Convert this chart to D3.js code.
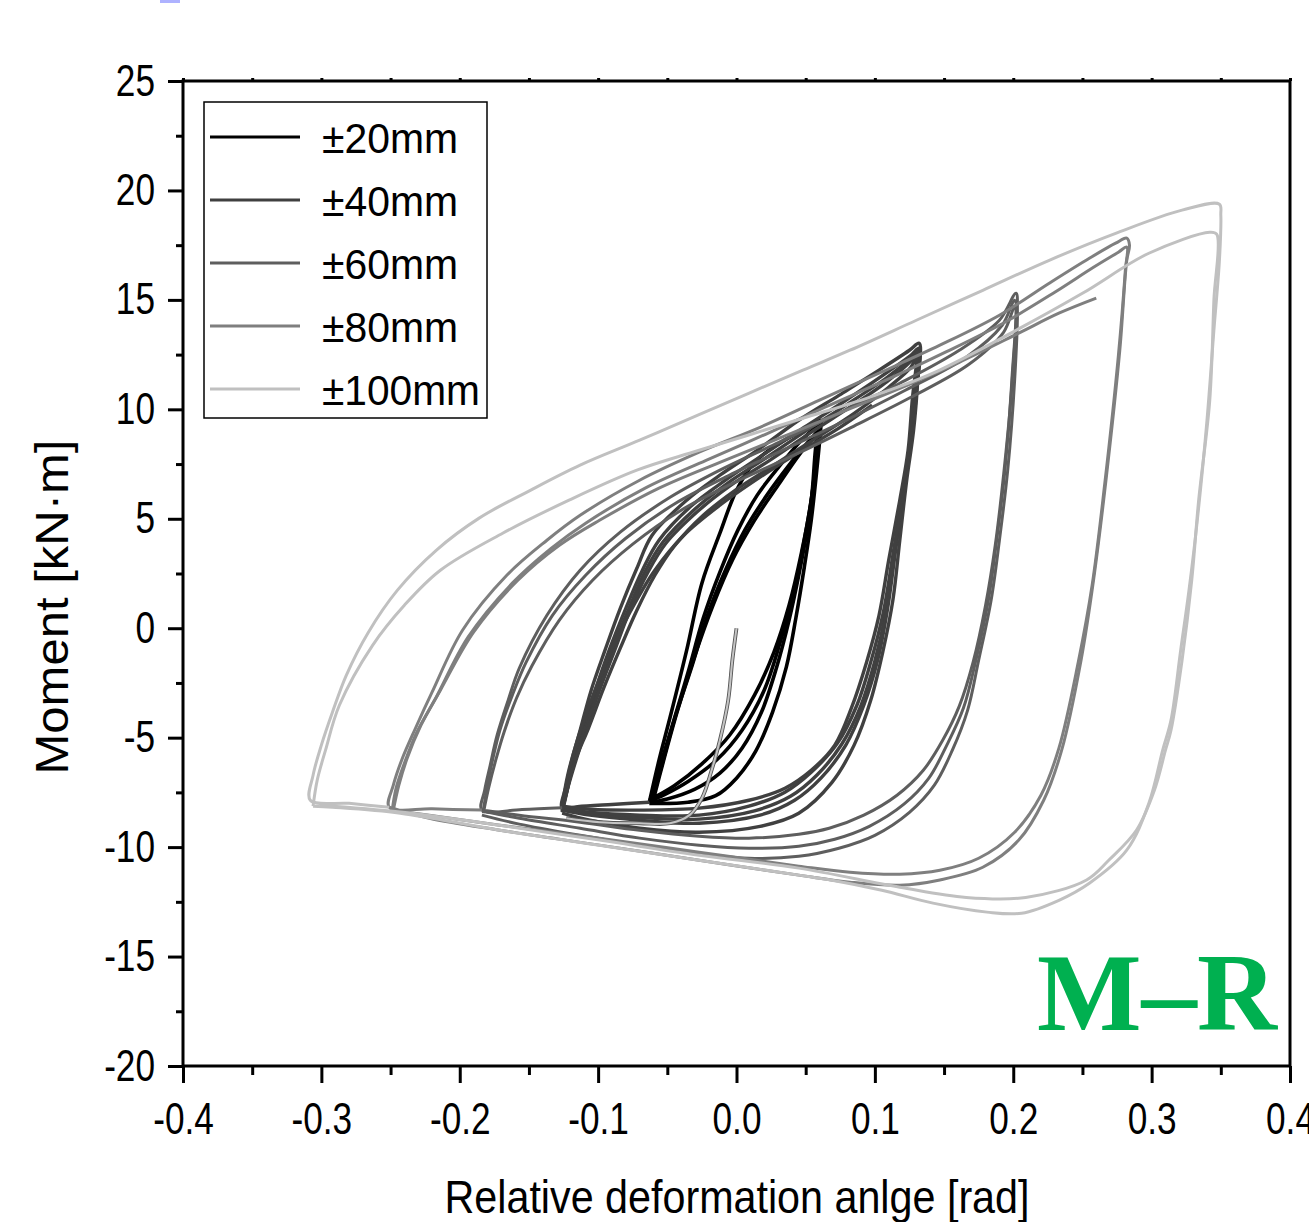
<!DOCTYPE html>
<html>
<head>
<meta charset="UTF-8">
<title>M-R hysteresis loops</title>
<script src="https://cdn.jsdelivr.net/npm/d3@7"></script>
<style>
body { margin: 0; background: #fff; }
</style>
<script>
// ---- data: [rotation (rad), moment (kN·m)] ----

var amplitudeLabels = ["±20mm", "±40mm", "±60mm", "±80mm", "±100mm"]
var seriesColors    = ["#000000", "#404040", "#5e5e5e", "#7f7f7f", "#c0c0c0"]

var xTickValues = [-0.4, -0.3, -0.2, -0.1, 0.0, 0.1, 0.2, 0.3, 0.4]
var xMinorTicks = [-0.35, -0.25, -0.15, -0.05, 0.05, 0.15, 0.25, 0.35]
var yTickValues = [-20, -15, -10, -5, 0, 5, 10, 15, 20, 25]
var yMinorTicks = [-17.5, -12.5, -7.5, -2.5, 2.5, 7.5, 12.5, 17.5, 22.5]

// first push from zero, drawn light over the black loops
var initialCurve = [[0.0,0.0],[-0.003,-1.46],[-0.006,-3.29],[-0.012,-5.12],[-0.018,-6.49],[-0.025,-7.77],
  [-0.034,-8.54],[-0.048,-8.91],[-0.070,-8.91],[-0.099,-8.86],[-0.123,-8.68]]

var cycles20mm = [
  [[-0.063,-7.95],[-0.056,-6.03],[-0.048,-4.07],[-0.036,-1.0],[-0.025,2.06],[-0.012,4.34],[0.0,6.30],[0.013,7.58],
   [0.031,8.45],[0.048,9.05],[0.061,9.50],[0.061,9.27],[0.058,7.22],[0.054,4.93],[0.049,2.79],[0.043,0.50],
   [0.036,-1.78],[0.026,-3.84],[0.014,-5.6],[0.0,-6.85],[-0.015,-7.65],[-0.035,-7.95],[-0.063,-8.0]],
  [[-0.061,-7.86],[-0.056,-6.49],[-0.047,-4.57],[-0.035,-2.01],[-0.024,0.46],[-0.012,2.56],[0.001,4.48],[0.015,6.08],
   [0.031,7.40],[0.047,8.59],[0.060,9.27],[0.060,9.05],[0.056,6.76],[0.051,4.48],[0.045,2.42],[0.038,0.37],
   [0.029,-1.78],[0.018,-3.84],[0.004,-5.48],[-0.012,-6.62],[-0.030,-7.35],[-0.050,-7.8],[-0.063,-7.95]],
  [[-0.061,-7.86],[-0.054,-6.26],[-0.045,-4.20],[-0.032,-1.69],[-0.021,0.59],[-0.008,2.65],[0.006,4.48],[0.022,6.08],
   [0.038,7.45],[0.051,8.45],[0.060,9.05],[0.059,8.82],[0.055,6.30],[0.049,4.02],[0.042,1.74],[0.032,-0.55],
   [0.020,-2.83],[0.004,-4.66],[-0.014,-6.0],[-0.035,-7.0],[-0.052,-7.6],[-0.063,-7.9]],
  [[-0.060,-7.81],[-0.053,-6.12],[-0.043,-3.84],[-0.030,-1.23],[-0.017,1.05],[-0.003,3.11],[0.013,4.93],[0.030,6.53],
   [0.045,7.90],[0.054,8.59],[0.060,8.91],[0.058,8.59],[0.054,5.85],[0.047,3.47],[0.038,1.05],[0.027,-1.10],
   [0.013,-3.06],[-0.005,-4.89],[-0.025,-6.2],[-0.045,-7.2],[-0.063,-7.85]]
]

var cycles40mm = [
  [[-0.063,-7.95],[-0.090,-8.05],[-0.115,-8.15],[-0.126,-8.22],[-0.123,-7.17],[-0.119,-6.03],[-0.113,-4.66],[-0.105,-2.83],
   [-0.095,-1.0],[-0.084,0.91],[-0.072,2.74],[-0.061,4.25],[-0.036,5.85],[-0.012,6.99],[0.017,8.22],[0.045,9.50],
   [0.074,10.64],[0.103,11.79],[0.125,12.70],[0.132,13.02],[0.131,11.33],[0.128,9.05],[0.123,6.76],[0.118,4.02],
   [0.113,1.28],[0.106,-1.0],[0.097,-3.29],[0.085,-5.34],[0.069,-7.04],[0.045,-8.45],[0.017,-9.05],[-0.027,-9.32],
   [-0.070,-9.14],[-0.106,-8.77],[-0.126,-8.45]],
  [[-0.126,-8.41],[-0.122,-7.31],[-0.118,-6.03],[-0.111,-4.66],[-0.102,-2.83],[-0.092,-1.0],[-0.080,0.91],[-0.068,2.65],
   [-0.056,4.02],[-0.033,5.57],[-0.009,6.72],[0.020,7.95],[0.049,9.18],[0.078,10.37],[0.106,11.56],[0.126,12.47],
   [0.132,12.79],[0.130,10.87],[0.126,8.59],[0.121,6.30],[0.115,3.56],[0.109,0.82],[0.102,-1.46],[0.092,-3.52],
   [0.079,-5.34],[0.061,-6.85],[0.042,-7.86],[0.017,-8.54],[-0.027,-8.91],[-0.070,-8.77],[-0.106,-8.54],[-0.126,-8.31]],
  [[-0.126,-8.36],[-0.122,-7.28],[-0.117,-6.03],[-0.110,-4.66],[-0.100,-2.83],[-0.090,-1.0],[-0.078,0.86],[-0.066,2.60],
   [-0.053,3.95],[-0.030,5.45],[-0.007,6.60],[0.022,7.81],[0.051,9.05],[0.080,10.23],[0.108,11.42],[0.126,12.33],
   [0.131,12.70],[0.130,10.75],[0.126,8.47],[0.120,6.19],[0.114,3.45],[0.108,0.75],[0.100,-1.50],[0.090,-3.52],
   [0.076,-5.30],[0.058,-6.72],[0.039,-7.68],[0.013,-8.34],[-0.027,-8.72],[-0.070,-8.65],[-0.106,-8.47],[-0.126,-8.27]],
  [[-0.126,-8.31],[-0.122,-7.31],[-0.116,-6.03],[-0.109,-4.66],[-0.099,-2.83],[-0.088,-1.0],[-0.077,0.82],[-0.064,2.56],
   [-0.051,3.88],[-0.028,5.34],[-0.005,6.49],[0.024,7.67],[0.053,8.91],[0.082,10.10],[0.109,11.28],[0.126,12.20],
   [0.131,12.61],[0.129,10.64],[0.125,8.36],[0.120,6.08],[0.113,3.33],[0.106,0.69],[0.097,-1.55],[0.087,-3.52],
   [0.073,-5.25],[0.054,-6.58],[0.035,-7.49],[0.009,-8.13],[-0.027,-8.54],[-0.070,-8.54],[-0.106,-8.41],[-0.126,-8.22]],
  [[-0.126,-8.22],[-0.122,-7.22],[-0.116,-5.94],[-0.107,-4.57],[-0.096,-2.74],[-0.084,-0.91],[-0.072,0.82],[-0.059,2.42],
   [-0.045,3.75],[-0.024,5.16],[-0.001,6.30],[0.027,7.45],[0.056,8.63],[0.085,9.82],[0.110,11.01],[0.126,11.92],
   [0.130,12.43],[0.127,10.42],[0.124,8.13],[0.118,5.85],[0.110,3.11],[0.103,0.59],[0.094,-1.55],[0.083,-3.65],
   [0.071,-5.34],[0.054,-6.49],[0.035,-7.31],[0.009,-7.86],[-0.027,-8.22],[-0.070,-8.31],[-0.106,-8.27],[-0.126,-8.13]],
  [[-0.126,-8.13],[-0.122,-6.72],[-0.115,-5.12],[-0.105,-3.29],[-0.092,-1.23],[-0.077,0.73],[-0.059,2.65],[-0.038,4.25],
   [-0.012,5.62],[0.017,6.90],[0.045,8.04],[0.074,9.14],[0.098,10.19]]
]

var cycles60mm = [
  [[-0.126,-8.2],[-0.155,-8.28],[-0.184,-8.31],[-0.182,-7.40],[-0.178,-6.26],[-0.173,-4.89],[-0.165,-3.29],[-0.157,-1.83],
   [-0.137,0.59],[-0.113,2.65],[-0.084,4.39],[-0.048,5.98],[-0.012,7.22],[0.031,8.50],[0.074,9.82],[0.118,11.19],
   [0.161,12.70],[0.190,14.07],[0.202,15.30],[0.203,14.53],[0.201,11.33],[0.196,7.22],[0.190,4.02],[0.184,1.28],
   [0.175,-1.46],[0.167,-3.75],[0.156,-5.57],[0.143,-7.17],[0.125,-8.41],[0.100,-9.46],[0.074,-10.05],[0.045,-10.42],
   [0.009,-10.51],[-0.027,-10.28],[-0.070,-9.91],[-0.113,-9.46],[-0.157,-8.95],[-0.184,-8.54]],
  [[-0.183,-8.36],[-0.180,-7.17],[-0.176,-5.94],[-0.171,-4.66],[-0.162,-3.06],[-0.152,-1.55],[-0.133,0.59],[-0.109,2.42],
   [-0.080,4.11],[-0.044,5.71],[-0.008,6.90],[0.035,8.18],[0.079,9.50],[0.122,10.87],[0.166,12.38],[0.192,13.84],
   [0.201,14.98],[0.199,11.33],[0.194,7.22],[0.188,4.02],[0.182,1.28],[0.173,-1.46],[0.164,-3.65],[0.152,-5.34],
   [0.139,-6.85],[0.121,-8.04],[0.096,-9.05],[0.071,-9.64],[0.045,-9.96],[0.009,-10.05],[-0.027,-9.91],[-0.070,-9.59],
   [-0.113,-9.14],[-0.157,-8.68],[-0.183,-8.36]],
  [[-0.183,-8.45],[-0.179,-7.26],[-0.174,-6.03],[-0.168,-4.75],[-0.159,-3.20],[-0.148,-1.74],[-0.128,0.37],[-0.104,2.19],
   [-0.075,3.84],[-0.040,5.39],[-0.004,6.58],[0.040,7.86],[0.083,9.18],[0.126,10.55],[0.168,12.06],[0.193,13.52],
   [0.201,14.66],[0.199,11.10],[0.193,6.99],[0.187,3.79],[0.180,1.05],[0.171,-1.55],[0.161,-3.56],[0.149,-5.12],
   [0.135,-6.49],[0.116,-7.63],[0.092,-8.54],[0.067,-9.14],[0.045,-9.41],[0.009,-9.59],[-0.027,-9.50],[-0.070,-9.23],
   [-0.113,-8.86],[-0.157,-8.54],[-0.183,-8.31]]
]

var cycles80mm = [
  [[-0.184,-8.31],[-0.220,-8.25],[-0.251,-8.18],[-0.248,-7.17],[-0.242,-6.03],[-0.232,-4.57],[-0.220,-2.92],[-0.198,-0.09],
   [-0.166,2.42],[-0.137,4.02],[-0.113,5.16],[-0.070,6.76],[-0.027,8.04],[0.017,9.18],[0.060,10.42],[0.103,11.65],
   [0.147,12.93],[0.190,14.30],[0.226,15.76],[0.255,16.90],[0.274,17.59],[0.282,17.82],[0.284,17.5],[0.282,16.8],
   [0.277,12.7],[0.267,6.76],[0.258,2.19],[0.249,-1.46],[0.235,-5.57],[0.222,-7.86],[0.204,-9.68],[0.178,-10.92],
   [0.147,-11.5],[0.118,-11.74],[0.082,-11.6],[0.045,-11.28],[-0.027,-10.6],[-0.099,-9.91],[-0.171,-9.23],
   [-0.222,-8.68],[-0.251,-8.18]],
  [[-0.249,-8.41],[-0.246,-7.31],[-0.240,-6.17],[-0.231,-4.75],[-0.217,-3.15],[-0.194,-0.41],[-0.162,2.06],[-0.134,3.65],
   [-0.109,4.80],[-0.066,6.40],[-0.022,7.67],[0.021,8.86],[0.064,10.10],[0.108,11.33],[0.151,12.61],[0.194,13.98],
   [0.230,15.35],[0.258,16.49],[0.276,17.18],[0.282,17.41],[0.281,16.35],[0.276,12.47],[0.266,6.53],[0.257,1.96],
   [0.247,-1.55],[0.233,-5.48],[0.220,-7.63],[0.201,-9.32],[0.175,-10.51],[0.147,-11.06],[0.118,-11.24],[0.082,-11.15],
   [0.045,-10.87],[-0.027,-10.23],[-0.099,-9.59],[-0.171,-9.0],[-0.222,-8.54],[-0.249,-8.31]],
  [[-0.248,-8.31],[-0.244,-7.17],[-0.238,-5.94],[-0.228,-4.43],[-0.214,-2.83],[-0.190,-0.18],[-0.158,2.19],[-0.128,3.79],
   [-0.099,4.93],[-0.056,6.40],[-0.012,7.58],[0.031,8.68],[0.074,9.82],[0.118,10.96],[0.161,12.15],[0.204,13.48],
   [0.233,14.39],[0.260,15.08]]
]

var cycles100mm = [
  [[-0.251,-8.18],[-0.280,-8.0],[-0.308,-7.86],[-0.306,-6.72],[-0.300,-5.34],[-0.292,-3.84],[-0.282,-2.15],[-0.266,-0.18],
   [-0.245,1.74],[-0.217,3.56],[-0.186,5.03],[-0.149,6.30],[-0.113,7.45],[-0.070,8.59],[-0.025,9.82],[0.048,11.79],
   [0.082,12.70],[0.130,14.07],[0.178,15.44],[0.226,16.81],[0.274,18.04],[0.322,19.10],[0.349,19.37],[0.350,18.87],
   [0.349,16.81],[0.345,13.61],[0.340,9.50],[0.333,4.93],[0.327,1.74],[0.321,-1.0],[0.314,-4.2],[0.308,-5.57],
   [0.298,-8.0],[0.282,-10.14],[0.255,-11.65],[0.233,-12.43],[0.206,-13.02],[0.181,-12.97],[0.142,-12.56],
   [0.105,-11.97],[0.069,-11.51],[0.045,-11.28],[-0.027,-10.6],[-0.075,-10.14],[-0.171,-9.23],[-0.243,-8.45],
   [-0.292,-8.18],[-0.306,-8.13]],
  [[-0.306,-8.13],[-0.303,-6.94],[-0.297,-5.57],[-0.287,-3.52],[-0.263,-0.78],[-0.240,1.05],[-0.214,2.65],[-0.169,4.34],
   [-0.121,5.85],[-0.072,7.22],[-0.027,8.13],[0.048,9.59],[0.096,10.55],[0.142,11.65],[0.202,13.61],[0.250,15.30],
   [0.298,17.13],[0.342,18.09],[0.347,18.0],[0.345,15.0],[0.342,10.4],[0.334,5.85],[0.329,2.2],[0.322,-1.46],
   [0.314,-4.66],[0.310,-5.57],[0.302,-7.4],[0.289,-9.23],[0.269,-10.6],[0.253,-11.5],[0.209,-12.3],[0.166,-12.3],
   [0.118,-11.83],[0.045,-10.96],[-0.027,-10.37],[-0.099,-9.68],[-0.171,-9.0],[-0.243,-8.4],[-0.301,-8.09]]
]

var seriesCycles = [cycles20mm, cycles40mm, cycles60mm, cycles80mm, cycles100mm]
</script>
</head>
<body>
<div id="chart"></div>

<script>
var W = 1309, H = 1222
var plotLeft = 183, plotRight = 1290, plotTop = 81, plotBottom = 1066
var lineWidths = [3.6, 3.4, 3.0, 3.0, 3.0]

var svg = d3.select("#chart").append("svg")
  .attr("width", W)
  .attr("height", H)
  .style("display", "block")
  .style("font-family", "'Liberation Sans', Arial, sans-serif")

var x = d3.scaleLinear().domain([-0.4, 0.4]).range([plotLeft, plotRight])
var y = d3.scaleLinear().domain([-20, 25]).range([plotBottom, plotTop])

// stray bit of colour at the top edge of the picture
svg.append("rect").attr("x", 160).attr("y", 0).attr("width", 20).attr("height", 3).attr("fill", "#aeb2ff")

// ---- loops ----
var loopLine = d3.line()
  .x(function(d) { return x(d[0]) })
  .y(function(d) { return y(d[1]) })
  .curve(d3.curveCatmullRom.alpha(0.5))

var plot = svg.append("g").attr("class", "loops")

seriesCycles.forEach(function(cycles, i) {
  plot.selectAll(".s" + i)
    .data(cycles).enter()
    .append("path")
      .attr("class", "s" + i)
      .attr("d", loopLine)
      .attr("fill", "none")
      .attr("stroke", seriesColors[i])
      .attr("stroke-width", lineWidths[i])
      .attr("stroke-linejoin", "round")
})

// initial branch: light line with a dark rim
plot.append("path").datum(initialCurve)
  .attr("d", loopLine).attr("fill", "none")
  .attr("stroke", "#555").attr("stroke-width", 3.8)
plot.append("path").datum(initialCurve)
  .attr("d", loopLine).attr("fill", "none")
  .attr("stroke", "#c4c4c4").attr("stroke-width", 2)

// ---- axes ----
var fmtX = function(d) { return d.toFixed(1) }
var fmtY = function(d) { return String(d) }   // plain hyphen, as in the picture

svg.append("g")
  .attr("transform", "translate(0," + plotBottom + ")")
  .call(d3.axisBottom(x).tickValues(xTickValues).tickSize(17).tickPadding(20).tickFormat(fmtX))
svg.append("g")
  .attr("transform", "translate(0," + plotBottom + ")")
  .call(d3.axisBottom(x).tickValues(xMinorTicks).tickSize(9).tickFormat(""))

svg.append("g")
  .attr("transform", "translate(" + plotLeft + ",0)")
  .call(d3.axisLeft(y).tickValues(yTickValues).tickSize(15).tickPadding(20).tickFormat(fmtY))
svg.append("g")
  .attr("transform", "translate(" + plotLeft + ",0)")
  .call(d3.axisLeft(y).tickValues(yMinorTicks).tickSize(7).tickFormat(""))

// small outward ticks on the top edge
svg.append("g")
  .attr("transform", "translate(0," + plotTop + ")")
  .call(d3.axisTop(x).tickValues(xTickValues.concat(xMinorTicks)).tickSize(3).tickFormat(""))

svg.selectAll(".domain").remove()
svg.selectAll(".tick line").attr("stroke", "#000").attr("stroke-width", 3)
svg.selectAll(".tick text")
  .attr("fill", "#000")
  .attr("font-size", 44)
  .attr("font-family", "'Liberation Sans', Arial, sans-serif")
  .attr("transform", "scale(0.8,1)")

// frame
svg.append("rect")
  .attr("x", plotLeft).attr("y", plotTop)
  .attr("width", plotRight - plotLeft).attr("height", plotBottom - plotTop)
  .attr("fill", "none").attr("stroke", "#000").attr("stroke-width", 3)

// axis titles
svg.append("text")
  .attr("x", 737).attr("y", 1213)
  .attr("text-anchor", "middle")
  .attr("font-size", 46)
  .attr("textLength", 585).attr("lengthAdjust", "spacingAndGlyphs")
  .text("Relative deformation anlge [rad]")

svg.append("text")
  .attr("transform", "translate(68,607) rotate(-90)")
  .attr("text-anchor", "middle")
  .attr("font-size", 46)
  .attr("textLength", 335).attr("lengthAdjust", "spacingAndGlyphs")
  .text("Moment [kN·m]")

// ---- legend ----
var legend = svg.append("g").attr("class", "legend")
legend.append("rect")
  .attr("x", 204).attr("y", 102).attr("width", 283).attr("height", 316)
  .attr("fill", "#fff").attr("stroke", "#000").attr("stroke-width", 1.5)

var rows = legend.selectAll(".row")
  .data(amplitudeLabels).enter()
  .append("g")
  .attr("class", "row")
  .attr("transform", function(d, i) { return "translate(0," + (137 + i * 63) + ")" })

rows.append("line")
  .attr("x1", 210).attr("x2", 300).attr("y1", 0).attr("y2", 0)
  .attr("stroke", function(d, i) { return seriesColors[i] })
  .attr("stroke-width", 3)

rows.append("text")
  .attr("x", 322).attr("y", 16)
  .attr("font-size", 42)
  .attr("textLength", function(d) { return d.length > 5 ? 158 : 136 })
  .attr("lengthAdjust", "spacingAndGlyphs")
  .text(function(d) { return d })

// ---- panel tag ----
svg.append("text")
  .attr("x", 1037).attr("y", 1030)
  .attr("font-family", "'Liberation Serif', 'DejaVu Serif', serif")
  .attr("font-weight", "bold")
  .attr("font-size", 110)
  .attr("fill", "#00b050")
  .attr("textLength", 240).attr("lengthAdjust", "spacingAndGlyphs")
  .text("M–R")
</script>
</body>
</html>
